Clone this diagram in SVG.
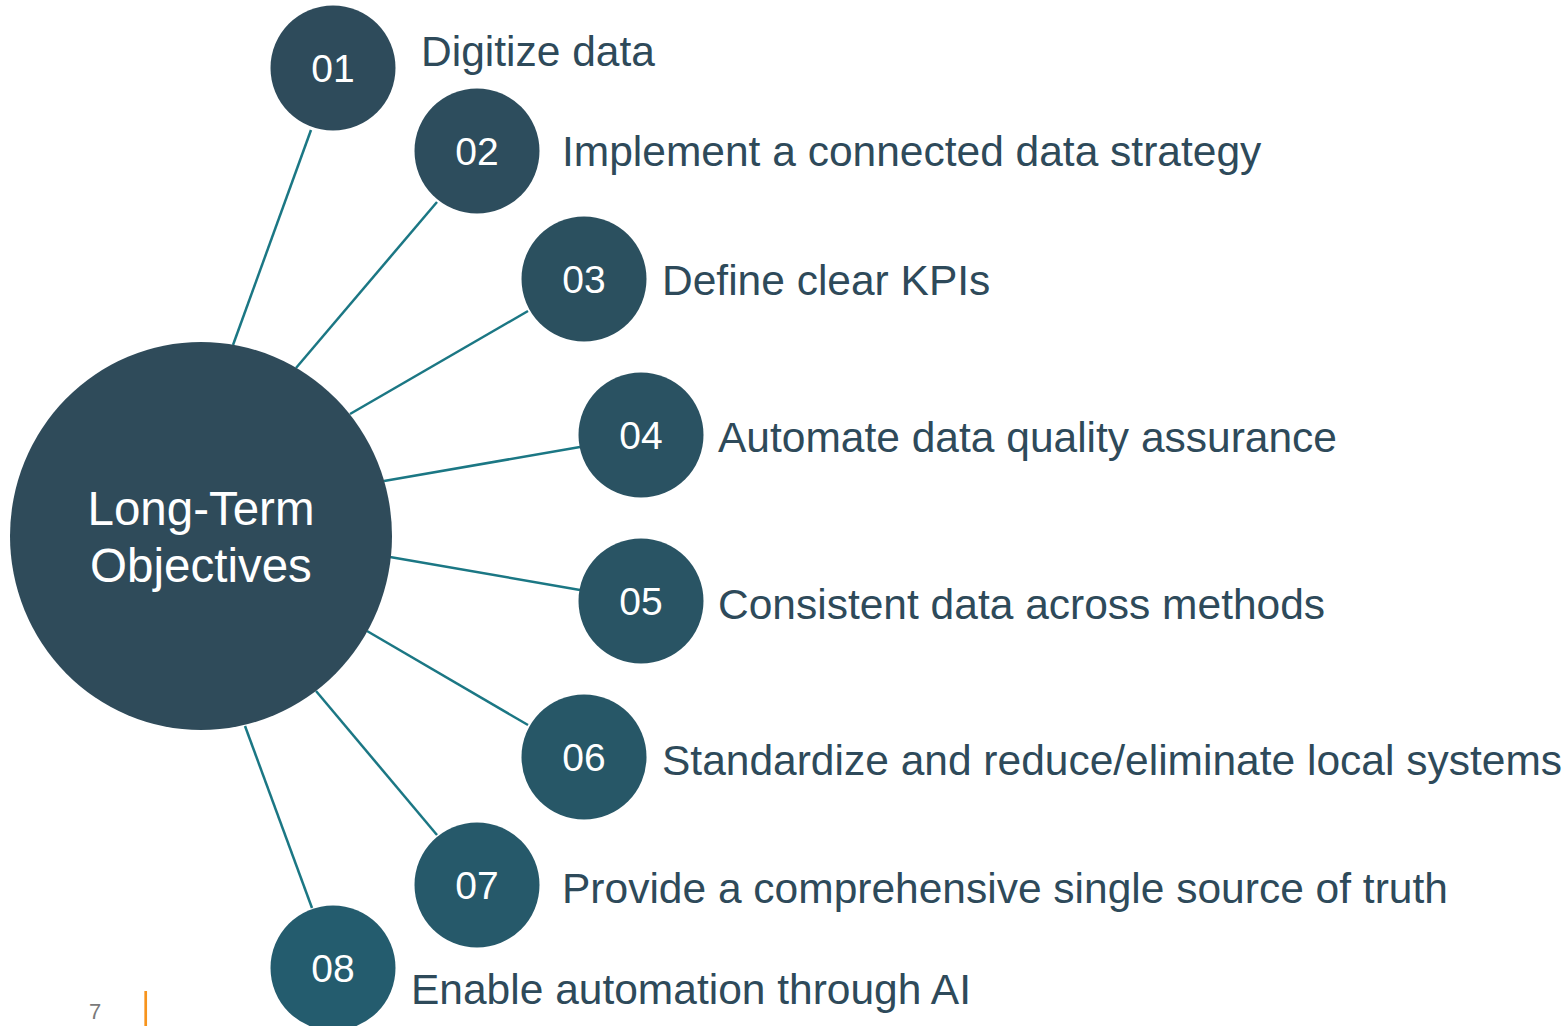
<svg xmlns="http://www.w3.org/2000/svg" width="1568" height="1026" viewBox="0 0 1568 1026">
<style>
.lbl{font-family:"Liberation Sans",Arial,sans-serif;font-size:42.5px;fill:#2e4a5a}
.num{font-family:"Liberation Sans",Arial,sans-serif;font-size:39px;fill:#ffffff;text-anchor:middle}
.hub{font-family:"Liberation Sans",Arial,sans-serif;font-size:47.5px;fill:#ffffff;text-anchor:middle}
.ln{stroke:#1b7784;stroke-width:2.5;fill:none}
</style>
<rect width="1568" height="1026" fill="#ffffff"/>
<g id="connectors">
<line class="ln" x1="233" y1="345" x2="311" y2="130"/>
<line class="ln" x1="296" y1="368" x2="437" y2="202"/>
<line class="ln" x1="350" y1="414" x2="528" y2="311"/>
<line class="ln" x1="384" y1="481" x2="580" y2="447"/>
<line class="ln" x1="390" y1="557" x2="580" y2="590"/>
<line class="ln" x1="367" y1="631" x2="528" y2="725"/>
<line class="ln" x1="316" y1="691" x2="437" y2="835"/>
<line class="ln" x1="245" y1="726" x2="312" y2="908"/>
</g>
<g id="hub">
<ellipse cx="201" cy="536" rx="191" ry="194" fill="#2f4b5a"/>
<text class="hub" x="201" y="525">Long-Term</text>
<text class="hub" x="201" y="582">Objectives</text>
</g>
<g id="n01">
<circle cx="333" cy="68" r="62.5" fill="#2e4b5b"/>
<text class="num" x="333" y="82">01</text>
<text class="lbl" x="421" y="66">Digitize data</text>
</g>
<g id="n02">
<circle cx="477" cy="151" r="62.5" fill="#2d4d5d"/>
<text class="num" x="477" y="165">02</text>
<text class="lbl" x="562" y="166">Implement a connected data strategy</text>
</g>
<g id="n03">
<circle cx="584" cy="279" r="62.5" fill="#2b505f"/>
<text class="num" x="584" y="293">03</text>
<text class="lbl" x="662" y="295">Define clear KPIs</text>
</g>
<g id="n04">
<circle cx="641" cy="435" r="62.5" fill="#2a5262"/>
<text class="num" x="641" y="449">04</text>
<text class="lbl" x="718" y="452">Automate data quality assurance</text>
</g>
<g id="n05">
<circle cx="641" cy="601" r="62.5" fill="#295464"/>
<text class="num" x="641" y="615">05</text>
<text class="lbl" x="718" y="619">Consistent data across methods</text>
</g>
<g id="n06">
<circle cx="584" cy="757" r="62.5" fill="#275767"/>
<text class="num" x="584" y="771">06</text>
<text class="lbl" x="662" y="775">Standardize and reduce/eliminate local systems</text>
</g>
<g id="n07">
<circle cx="477" cy="885" r="62.5" fill="#26596a"/>
<text class="num" x="477" y="899">07</text>
<text class="lbl" x="562" y="903">Provide a comprehensive single source of truth</text>
</g>
<g id="n08">
<circle cx="333" cy="968" r="62.5" fill="#245c6e"/>
<text class="num" x="333" y="982">08</text>
<text class="lbl" x="411" y="1004">Enable automation through AI</text>
</g>
<g id="footer">
<text x="95" y="1019" font-family="Liberation Sans,Arial,sans-serif" font-size="22" fill="#7a7a7a" text-anchor="middle">7</text>
<line x1="145.7" y1="991" x2="145.7" y2="1026" stroke="#f7941d" stroke-width="2.7"/>
</g>
</svg>
